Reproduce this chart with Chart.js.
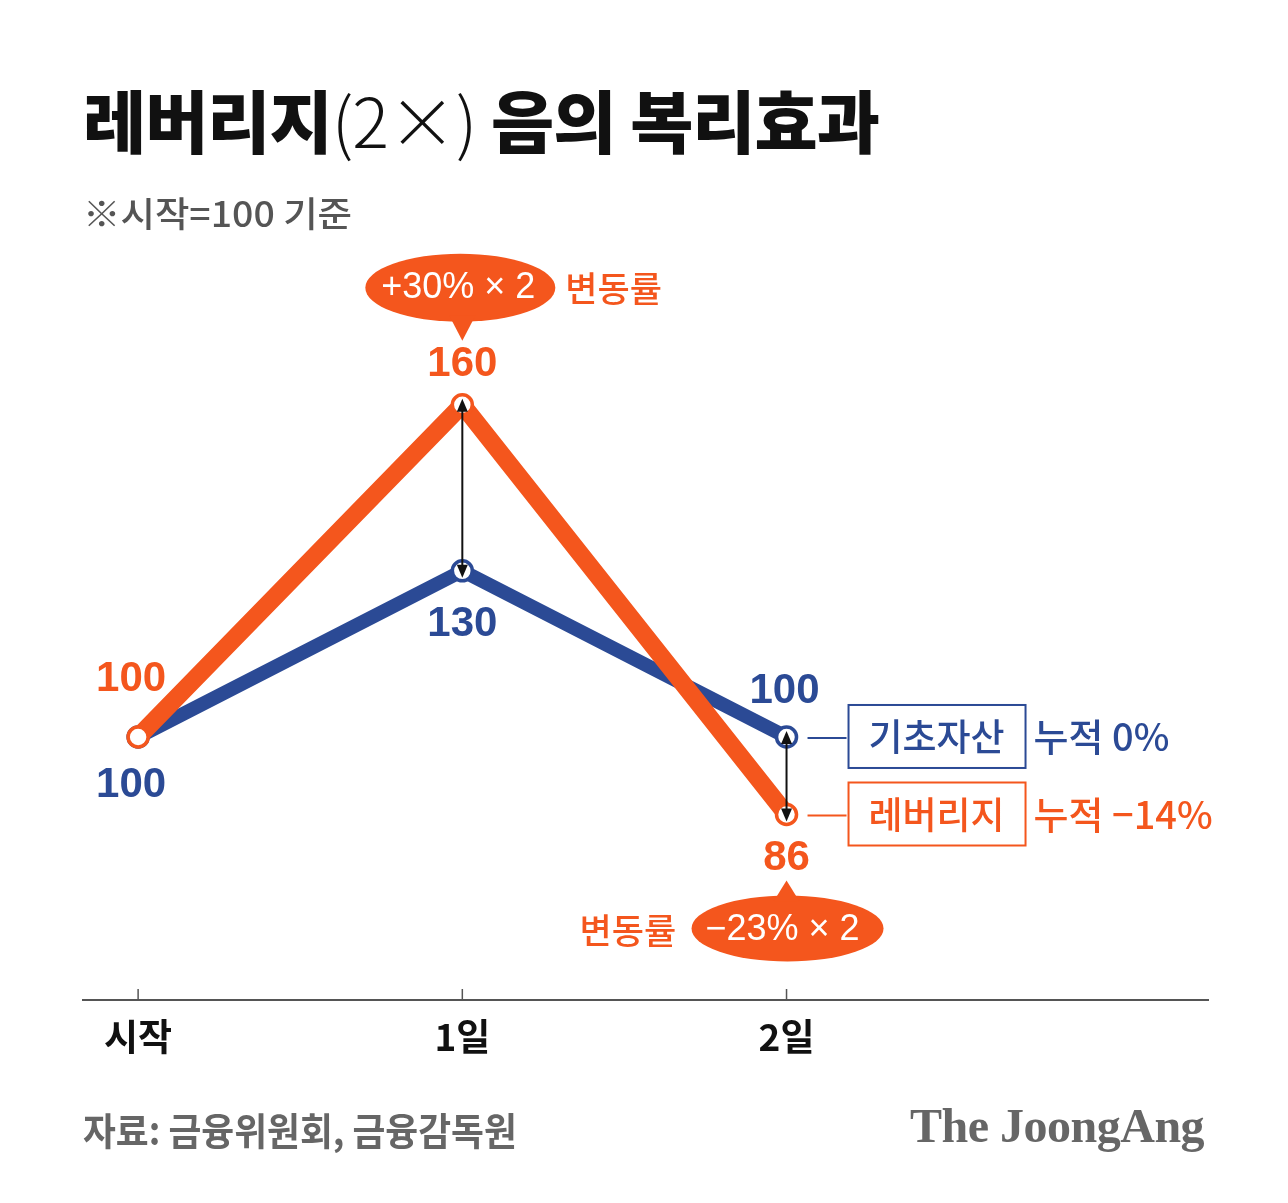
<!DOCTYPE html>
<html><head><meta charset="utf-8">
<script src="https://cdn.jsdelivr.net/npm/chart.js@4.4.1/dist/chart.umd.min.js"></script>
<style>
html,body{margin:0;padding:0;background:#fff;}
body{width:1288px;height:1203px;position:relative;overflow:hidden;font-family:"Noto Sans CJK KR",sans-serif;}
#c{position:absolute;left:0;top:0;}
.t{position:absolute;white-space:nowrap;transform-origin:left center;}
#title{left:83px;top:77px;font-size:68px;line-height:84px;font-weight:900;color:#111;transform:scaleX(1.01);letter-spacing:-1px;}
#title .thin{font-weight:300;font-family:"Noto Sans CJK KR";}
#sub{left:83px;top:191px;font-size:35px;line-height:42px;color:#555;font-weight:500;transform:scaleX(1.07);letter-spacing:0px;}
#src{left:83px;top:1106px;font-size:38px;line-height:46px;color:#666;font-weight:700;transform:scaleX(0.94);letter-spacing:0px;}
#logo{left:910px;top:1099px;font-size:48px;line-height:54px;color:#666;font-weight:700;font-family:"Liberation Serif","DejaVu Serif",serif;letter-spacing:-0.5px;}
</style></head>
<body>
<canvas id="c" width="1288" height="1203"></canvas>
<div class="t" id="title">레버리지<span class="thin">(2×)</span> 음의 복리효과</div>
<div class="t" id="sub">※시작=100 기준</div>
<div class="t" id="src">자료: 금융위원회, 금융감독원</div>
<div class="t" id="logo">The JoongAng</div>
<script>
// ---- data ----
const categories = ['시작', '1일', '2일'];
const leveraged = [100, 160, 86];
const underlying = [100, 130, 100];
const changeLabels = ['+30% × 2', '−23% × 2'];
const seriesNames = ['기초자산', '레버리지'];
const cumulativeLabels = ['누적 0%', '누적 −14%'];
const changeWord = '변동률';

const ORANGE = '#f4561d';
const BLUE = '#2b4a95';
const KR = '"Noto Sans CJK KR", sans-serif';
const NUM = '"Liberation Sans", Arial, sans-serif';

function ellipseBubble(ctx, cx, cy, rx, ry, tipX, tipY, dir) {
  ctx.save();
  ctx.fillStyle = ORANGE;
  ctx.beginPath();
  ctx.ellipse(cx, cy, rx, ry, 0, 0, Math.PI * 2);
  ctx.fill();
  ctx.beginPath();
  const baseY = cy + dir * (ry - 6);
  ctx.moveTo(tipX - 13, baseY);
  ctx.lineTo(tipX + 13, baseY);
  ctx.lineTo(tipX, tipY);
  ctx.closePath();
  ctx.fill();
  ctx.restore();
}

function arrowHead(ctx, x, y, dir) {
  ctx.beginPath();
  ctx.moveTo(x, y);
  ctx.lineTo(x - 5.5, y - dir * 13);
  ctx.lineTo(x + 5.5, y - dir * 13);
  ctx.closePath();
  ctx.fill();
}

const annotate = {
  id: 'annotate',
  afterDraw(chart) {
    const ctx = chart.ctx;
    const xs = chart.scales.x, ys = chart.scales.y;
    const X = i => xs.getPixelForValue(i);
    const Y = v => ys.getPixelForValue(v);
    const axisY = chart.chartArea.bottom;
    ctx.save();
    // tick marks pointing up
    ctx.strokeStyle = '#555';
    ctx.lineWidth = 1.5;
    categories.forEach((c, i) => {
      ctx.beginPath();
      ctx.moveTo(X(i), axisY);
      ctx.lineTo(X(i), axisY - 11);
      ctx.stroke();
    });
    // double arrows between series
    ctx.strokeStyle = '#111';
    ctx.fillStyle = '#111';
    ctx.lineWidth = 2;
    [1, 2].forEach(i => {
      const top = Y(Math.max(leveraged[i], underlying[i]));
      const bot = Y(Math.min(leveraged[i], underlying[i]));
      const t = top - 6, b = bot + 7;
      ctx.beginPath();
      ctx.moveTo(X(i), t + 10);
      ctx.lineTo(X(i), b - 10);
      ctx.stroke();
      arrowHead(ctx, X(i), t, -1);
      arrowHead(ctx, X(i), b, 1);
    });
    // value labels
    ctx.textAlign = 'center';
    ctx.textBaseline = 'middle';
    ctx.font = 'bold 42px ' + NUM;
    const labelOffsetsL = [[-7, -58], [0, -40], [0, 44]];
    const labelOffsetsU = [[-7, 48], [0, 54], [-2, -46]];
    leveraged.forEach((v, i) => {
      ctx.fillStyle = ORANGE;
      ctx.fillText(String(v), X(i) + labelOffsetsL[i][0], Y(v) + labelOffsetsL[i][1]);
    });
    underlying.forEach((v, i) => {
      ctx.fillStyle = BLUE;
      ctx.fillText(String(v), X(i) + labelOffsetsU[i][0], Y(v) + labelOffsetsU[i][1]);
    });
    // change bubbles
    const p1x = X(1), p1y = Y(leveraged[1]);
    ellipseBubble(ctx, p1x - 2, p1y - 117, 95, 34, p1x, p1y - 64, 1);
    const p2x = X(2), p2y = Y(leveraged[2]);
    ellipseBubble(ctx, p2x + 1, p2y + 114, 96, 33, p2x, p2y + 66, -1);
    ctx.fillStyle = '#fff';
    ctx.font = '36px ' + NUM;
    ctx.fillText(changeLabels[0], p1x - 4, p1y - 117);
    ctx.fillText(changeLabels[1], p2x - 4, p2y + 116);
    ctx.fillStyle = ORANGE;
    ctx.font = '500 35px ' + KR;
    ctx.textAlign = 'left';
    ctx.fillText(changeWord, p1x + 103, p1y - 116);
    ctx.fillText(changeWord, p2x - 207, p2y + 116);
    // legend boxes next to last points
    const last = categories.length - 1;
    const rows = [[BLUE, Y(underlying[last])], [ORANGE, Y(leveraged[last])]];
    rows.forEach(([col, py], k) => {
      const lx = X(last);
      ctx.strokeStyle = col;
      ctx.lineWidth = 2;
      ctx.beginPath();
      ctx.moveTo(lx + 21, py + 1);
      ctx.lineTo(lx + 60, py + 1);
      ctx.stroke();
      ctx.strokeRect(lx + 62, py - 32, 177, 63);
      ctx.fillStyle = col;
      ctx.font = '500 37px ' + KR;
      ctx.textAlign = 'center';
      ctx.fillText(seriesNames[k], lx + 150, py);
      ctx.textAlign = 'left';
      ctx.font = '500 38px ' + KR;
      ctx.fillText(cumulativeLabels[k], lx + 247, py);
    });
    ctx.restore();
  }
};

function build() {
  new Chart(document.getElementById('c'), {
    type: 'line',
    data: {
      datasets: [
        {
          label: seriesNames[1],
          data: leveraged.map((v, i) => ({ x: i, y: v })),
          borderColor: ORANGE,
          borderWidth: 18,
          pointRadius: 10,
          pointBorderWidth: 3.5,
          pointBackgroundColor: '#fff',
          pointBorderColor: ORANGE,
          tension: 0,
          borderJoinStyle: 'round',
          clip: false
        },
        {
          label: seriesNames[0],
          data: underlying.map((v, i) => ({ x: i, y: v })),
          borderColor: BLUE,
          borderWidth: 14,
          pointRadius: 10,
          pointBorderWidth: 3.5,
          pointBackgroundColor: '#fff',
          pointBorderColor: BLUE,
          tension: 0,
          borderJoinStyle: 'round',
          clip: false
        }
      ]
    },
    options: {
      responsive: false,
      animation: false,
      devicePixelRatio: 1,
      layout: { padding: { left: 83, right: 80, top: 294, bottom: 123 } },
      plugins: { legend: { display: false }, tooltip: { enabled: false } },
      scales: {
        x: {
          type: 'linear',
          min: -0.17,
          max: 3.3,
          afterBuildTicks: s => { s.ticks = categories.map((c, i) => ({ value: i })); },
          afterFit: s => { s.height = 80; },
          grid: { display: false, drawTicks: false },
          border: { display: true, color: '#555', width: 2 },
          ticks: {
            callback: v => categories[v] ?? '',
            font: { family: 'Noto Sans CJK KR', size: 37, weight: 'bold' },
            color: '#111',
            padding: 15,
            maxRotation: 0,
            autoSkip: false
          }
        },
        y: { display: false, min: 52.5, max: 180 }
      }
    },
    plugins: [annotate]
  });
}

Promise.all([
  document.fonts.load('500 36px "Noto Sans CJK KR"'),
  document.fonts.load('bold 36px "Noto Sans CJK KR"'),
  document.fonts.load('bold 42px "Liberation Sans"'),
  document.fonts.load('36px "Liberation Sans"')
]).catch(() => {}).then(build);
</script>
</body></html>
